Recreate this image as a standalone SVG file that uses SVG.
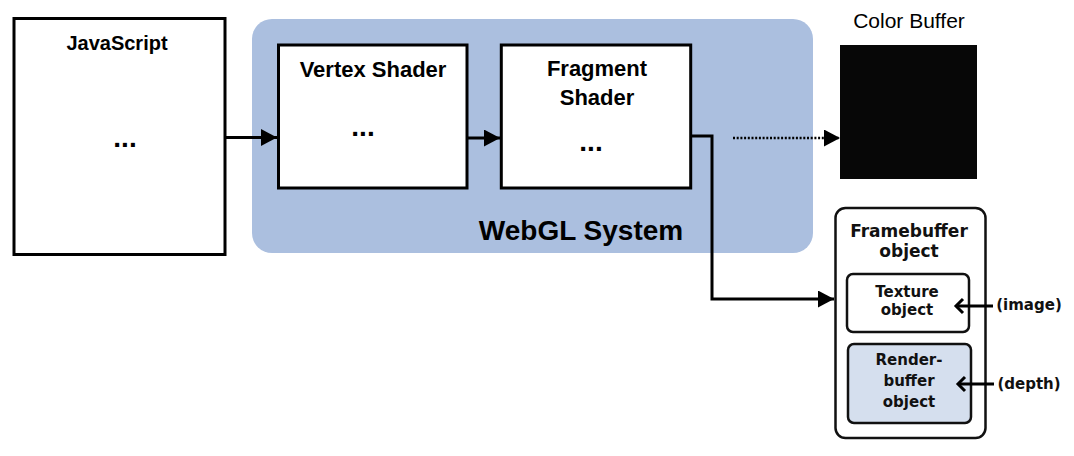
<svg xmlns="http://www.w3.org/2000/svg" width="1074" height="456" viewBox="0 0 1074 456">
<style>
.box{fill:#fff;stroke:#000;stroke-width:3}
.h{font-family:"Liberation Sans",Arial,sans-serif;font-weight:bold;fill:#000;text-anchor:middle}
.f{font-family:"DejaVu Sans",sans-serif;font-weight:bold;fill:#111;text-anchor:middle}
.ln{fill:none;stroke:#000;stroke-width:3}
.rb{fill:#fff;stroke:#111;stroke-width:2.5}
</style>
<defs>
<marker id="tri" markerWidth="16" markerHeight="17" refX="16" refY="8.5" orient="auto" markerUnits="userSpaceOnUse">
<path d="M0,0 L16,8.5 L0,17 Z" fill="#000"/>
</marker>
</defs>
<rect width="1074" height="456" fill="#fff"/>
<g id="webgl">
<rect x="252" y="19" width="561" height="234" rx="20" fill="#abbfdf"/>
<text class="h" x="581" y="240" font-size="28">WebGL System</text>
</g>
<g id="javascript">
<rect class="box" x="14" y="18.5" width="211" height="236"/>
<text class="h" x="117" y="50" font-size="20">JavaScript</text>
<text class="h" x="125" y="147" font-size="28">...</text>
</g>
<g id="vertex">
<rect class="box" x="278.5" y="45" width="188.5" height="143"/>
<text class="h" x="373" y="77" font-size="22">Vertex Shader</text>
<text class="h" x="363" y="136" font-size="28">...</text>
</g>
<g id="fragment">
<rect class="box" x="501.3" y="45" width="189.4" height="143"/>
<text class="h" x="597" y="76" font-size="22">Fragment</text>
<text class="h" x="597" y="105" font-size="22">Shader</text>
<text class="h" x="591" y="151" font-size="28">...</text>
</g>
<g id="colorbuffer">
<text x="909" y="28" font-family="Liberation Sans,Arial,sans-serif" font-size="21" text-anchor="middle" fill="#000">Color Buffer</text>
<rect x="840" y="45" width="137" height="134" fill="#070707"/>
</g>
<g id="framebuffer">
<rect class="rb" x="835.5" y="208" width="150" height="230" rx="10"/>
<text class="f" x="909" y="237" font-size="17">Framebuffer</text>
<text class="f" x="909" y="257" font-size="17">object</text>
</g>
<g id="texture">
<rect class="rb" x="847" y="274" width="122" height="58" rx="6"/>
<text class="f" x="907" y="297" font-size="15">Texture</text>
<text class="f" x="907" y="315" font-size="15">object</text>
</g>
<g id="renderbuffer">
<rect class="rb" x="848" y="344" width="123" height="79" rx="6" style="fill:#d5dfee"/>
<text class="f" x="909" y="365" font-size="15">Render-</text>
<text class="f" x="909" y="386" font-size="15">buffer</text>
<text class="f" x="909" y="407" font-size="15">object</text>
</g>
<g id="labels">
<text class="f" x="1029" y="310" font-size="15">(image)</text>
<text class="f" x="1029" y="389" font-size="15">(depth)</text>
</g>
<g id="connectors">
<line class="ln" x1="226" y1="137.5" x2="277" y2="137.5" marker-end="url(#tri)"/>
<line class="ln" x1="467" y1="138" x2="500" y2="138" marker-end="url(#tri)"/>
<polyline class="ln" points="690,136 712,136 712,299 834,299" marker-end="url(#tri)"/>
<line x1="733" y1="138" x2="840" y2="138" stroke="#000" stroke-width="2.5" stroke-dasharray="2 1.7" marker-end="url(#tri)"/>
<line class="ln" x1="993" y1="306" x2="956" y2="306"/>
<polyline class="ln" points="963,299 956,306 963,313"/>
<line class="ln" x1="994" y1="384" x2="958" y2="384"/>
<polyline class="ln" points="965,377 958,384 965,391"/>
</g>
</svg>
